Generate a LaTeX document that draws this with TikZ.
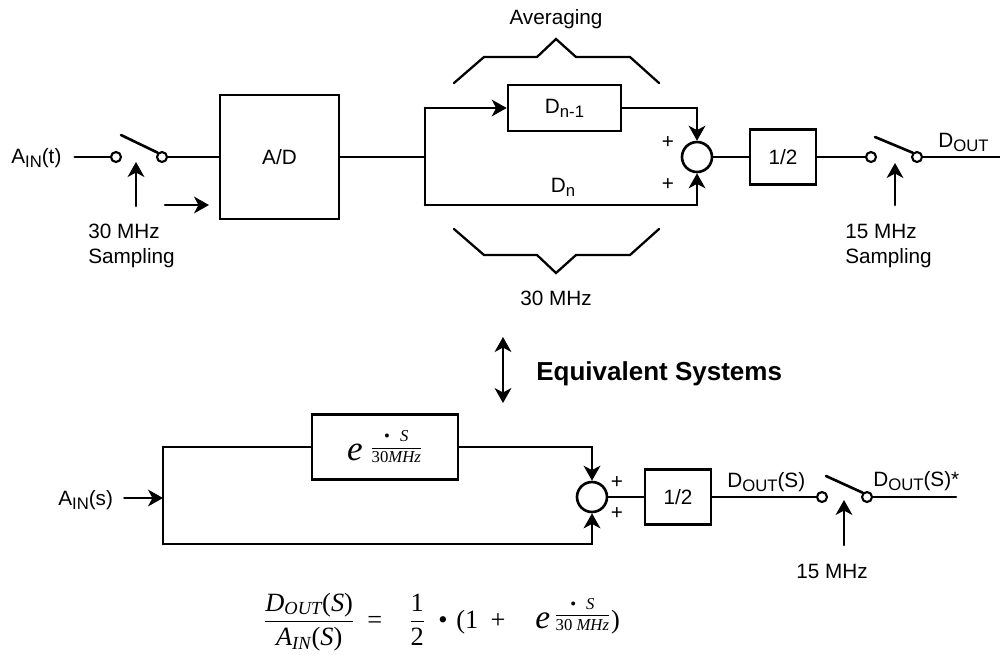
\documentclass[tikz,border=0pt]{standalone}
\usepackage{amsmath}
\usepackage{fontspec}
\setmainfont{Liberation Sans}
\newfontfamily\timesfont{Liberation Serif}
\usetikzlibrary{arrows.meta}
\newcommand{\lowidx}[1]{\raisebox{-2.3pt}{\fontsize{9.5}{9.5}\selectfont #1}}
\newcommand{\itS}{\text{(}\text{\itshape S}\text{)}}

\begin{document}
\begin{tikzpicture}[x=0.02cm,y=-0.02cm,>={Stealth[length=8.5pt,width=9.5pt,inset=2.5pt]},
  line width=1.5pt,line cap=round,font=\fontsize{11.8}{14.2}\selectfont,
  blk/.style={draw,inner sep=0pt},
  sumc/.style={draw,circle,inner sep=0pt,minimum size=0.6cm},
  swc/.style={draw,circle,fill=white,inner sep=0pt,minimum size=0.2cm,line width=1.2pt},
  txt/.style={inner sep=0pt},
  brace/.style={line width=1.3pt}]
\useasboundingbox (0,0) rectangle (1000,654);

% upper system
\node[txt,anchor=base west] (ain) at (10,163) {A\lowidx{IN}(t)};
\node[swc] (s1a) at (116,157) {};
\node[swc] (s1b) at (162,157) {};
\coordinate (bl1) at (121,135);
\node[blk,minimum width=2.38cm,minimum height=2.48cm] (ad) at (279.5,157) {A/D};
\coordinate (jm) at (425,157);
\coordinate (jt) at (425,108);
\coordinate (jb) at (425,205);
\node[blk,minimum width=2.26cm,minimum height=0.92cm] (dn1) at (564.5,108) {D\lowidx{n-1}};
\node[sumc] (sum1) at (697,157) {};
\node[blk,minimum width=1.32cm,minimum height=1.1cm] (half1) at (783,157) {1/2};
\node[swc] (s2a) at (871,157) {};
\node[swc] (s2b) at (917,157) {};
\coordinate (bl2) at (875,137);
\coordinate (out1) at (1000,157);

\draw[shorten <=6.8pt] (ain.east |- s1a) -- (s1a.west);
\draw (bl1) -- (s1b.north west);
\draw (s1b.east) -- (ad.west);
\draw (ad.east) -- (jm);
\draw (jt) -- (jb);
\draw[->] (jt) -- (dn1.west);
\draw[->] (dn1.east) -| (sum1.north);
\draw[->] (jb) -| (sum1.south);
\draw (sum1.east) -- (half1.west);
\draw (half1.east) -- (s2a.west);
\draw (bl2) -- (s2b.north west);
\draw (s2b.east) -- (out1);

% sampling clocks
\coordinate (ck1) at (136,206);
\coordinate (ck1t) at (136,162);
\coordinate (ck2) at (165,205);
\coordinate (ck2t) at (209,205);
\coordinate (ck3) at (895,205);
\coordinate (ck3t) at (895,163);
\draw[->] (ck1) -- (ck1t);
\draw[->] (ck2) -- (ck2t);
\draw[->] (ck3) -- (ck3t);

\node[txt,anchor=north west,align=left] (smp1) at (87,223) {30 MHz\\Sampling};
\node[txt,anchor=north west,align=left] (smp2) at (844,223) {15 MHz\\Sampling};
\node[txt,anchor=base] (dn) at (563,192) {D\lowidx{n}};
\node[txt] (p1) at (668,143) {+};
\node[txt] (p2) at (668,185) {+};
\node[txt,anchor=base west] (dout) at (937,147) {D\lowidx{OUT}};

% averaging brackets
\draw[brace] (454,83) -- (484,57) -- (537,57) -- (556,39) -- (576,57) -- (630,57) -- (659,83);
\draw[brace] (454,229) -- (484,255) -- (537,255) -- (556,273) -- (576,255) -- (630,255) -- (659,229);
\node[txt,anchor=base] (avg) at (556,24) {Averaging};
\node[txt,anchor=base] (mhz30) at (556,305) {30 MHz};

% equivalence
\coordinate (eqt) at (503,337);
\coordinate (eqb) at (503,403);
\draw[<->] (eqt) -- (eqb);
\node[txt,anchor=base west,font=\fontsize{14.8}{16}\selectfont\bfseries] (eqv) at (535,380) {Equivalent Systems};

% lower system
\node[txt,anchor=base west] (ains) at (57,505) {A\lowidx{IN}(s)};
\coordinate (jl) at (163,498);
\coordinate (ltop) at (163,447);
\coordinate (lbot) at (163,544);
\node[blk,minimum width=2.92cm,minimum height=1.3cm,font=\timesfont] (ebox) at (385,447)
  {{\fontsize{20}{20}\selectfont\itshape e}\hspace{4pt}\raisebox{5pt}{\fontsize{9.5}{9.5}\selectfont$\dfrac{\text{\textbullet\hspace{0.6em}\itshape S}}{\text{30\itshape MHz}}$}};
\node[sumc] (sum2) at (592,497) {};
\node[blk,minimum width=1.32cm,minimum height=1.1cm] (half2) at (678,497) {1/2};
\node[swc] (s3a) at (822,497) {};
\node[swc] (s3b) at (867,497) {};
\coordinate (bl3) at (826,476);
\coordinate (out2) at (956,497);

\draw[->,shorten <=5.7pt] (ains.east |- jl) -- (jl);
\draw (ltop) -- (lbot);
\draw (ltop) -- (ebox.west);
\draw[->] (ebox.east) -| (sum2.north);
\draw[->] (lbot) -| (sum2.south);
\draw (sum2.east) -- (half2.west);
\draw (half2.east) -- (s3a.west);
\draw (bl3) -- (s3b.north west);
\draw (s3b.east) -- (out2);

\coordinate (ck4) at (844,545);
\coordinate (ck4t) at (844,500);
\draw[->] (ck4) -- (ck4t);

\node[txt] (p3) at (617,483) {+};
\node[txt] (p4) at (617,513) {+};
\node[txt,anchor=base west] (douts) at (726,487) {D\lowidx{OUT}(S)};
\node[txt,anchor=base west] (doutss) at (872,486) {D\lowidx{OUT}(S)*};
\node[txt,anchor=base] (mhz15) at (832,578) {15 MHz};

% transfer function
\node[txt,anchor=west,font=\timesfont\fontsize{15}{17}\selectfont] (tf) at (262,622)
  {$\dfrac{\text{\itshape D}_{\text{\itshape OUT}}\itS}{\text{\itshape A}_{\text{\itshape IN}}\itS}$\hspace{7pt}=\hspace{15pt}$\dfrac{\text{1}}{\text{2}}$\hspace{7pt}\textbullet\hspace{5pt}(1\hspace{7pt}+\hspace{17pt}{\fontsize{19}{19}\selectfont\itshape e}\hspace{2pt}\raisebox{5pt}{\fontsize{9.5}{9.5}\selectfont$\dfrac{\text{\textbullet\hspace{0.6em}\itshape S}}{\text{30 \itshape MHz}}$})};
\end{tikzpicture}
\end{document}
